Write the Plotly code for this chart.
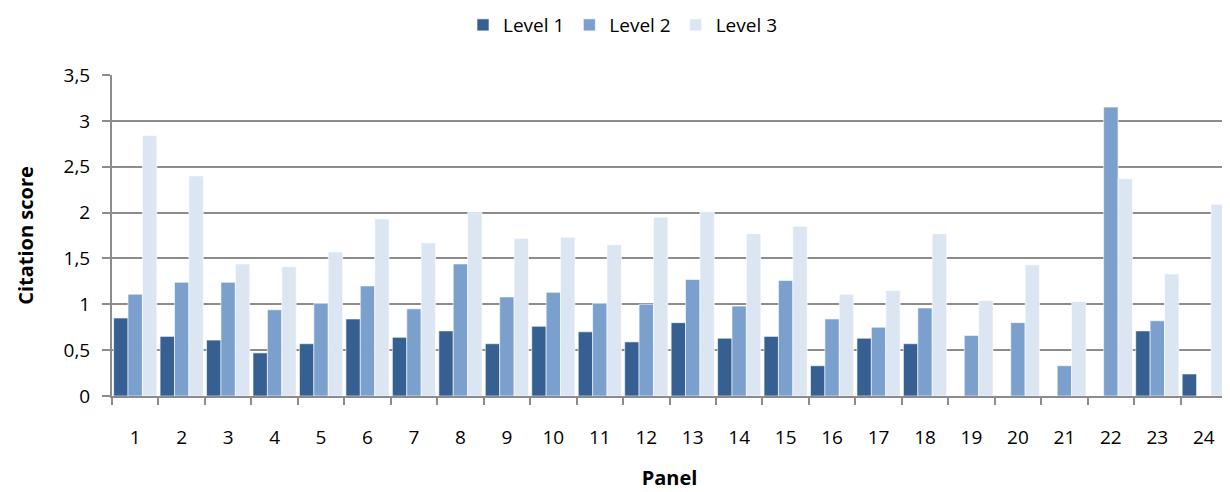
import plotly.graph_objects as go

panels = [str(i) for i in range(1, 25)]
level1 = [0.85, 0.65, 0.61, 0.47, 0.57, 0.84, 0.64, 0.71, 0.57, 0.76, 0.70, 0.59,
          0.80, 0.63, 0.65, 0.33, 0.63, 0.57, None, None, None, None, 0.71, 0.24]
level2 = [1.11, 1.24, 1.24, 0.94, 1.01, 1.20, 0.95, 1.44, 1.08, 1.13, 1.01, 1.00,
          1.27, 0.98, 1.26, 0.84, 0.75, 0.96, 0.66, 0.80, 0.33, 3.15, 0.82, None]
level3 = [2.84, 2.40, 1.44, 1.41, 1.57, 1.93, 1.67, 2.00, 1.72, 1.73, 1.65, 1.95,
          2.01, 1.77, 1.85, 1.11, 1.15, 1.77, 1.04, 1.43, 1.03, 2.37, 1.33, 2.09]

series = [("Level 1", level1, "#376092"), ("Level 2", level2, "#7BA0CD"), ("Level 3", level3, "#DCE6F2")]

font = "Open Sans"
fig = go.Figure()
for name, vals, col in series:
    fig.add_trace(go.Bar(x=panels, y=vals, name=name, marker=dict(color=col, line=dict(color="white", width=0.6))))

fig.update_layout(
    width=1230, height=492,
    barmode="group", bargap=0.07, bargroupgap=0,
    plot_bgcolor="white", paper_bgcolor="white",
    separators=", ",
    margin=dict(l=104, r=11, t=67, b=104, autoexpand=False),
    font=dict(family=font, size=19, color="black"),
    legend=dict(orientation="h", x=0.5, xref="container", xanchor="center",
                y=0.9654, yref="container", yanchor="middle",
                font=dict(size=19), itemwidth=30, traceorder="normal", tracegroupgap=0),
    xaxis=dict(title=dict(text="<b>Panel</b>", font=dict(size=20), standoff=22),
               showline=True, linecolor="#8c8c8c", linewidth=2, ticks="outside", tickson="boundaries",
               ticklen=7, tickcolor="#8c8c8c", tickwidth=2, showgrid=False, tickfont=dict(size=19),
               ticklabelstandoff=23, automargin=False),
    yaxis=dict(title=dict(text="<b>Citation score</b>", font=dict(size=20), standoff=25),
               range=[0, 3.5], dtick=0.5, showgrid=True, gridcolor="#8c8c8c", gridwidth=2,
               showline=True, linecolor="#8c8c8c", linewidth=2, ticks="outside", ticklen=8,
               tickcolor="#8c8c8c", tickwidth=2, zeroline=False, tickfont=dict(size=19),
               ticklabelstandoff=8, automargin=False),
)
fig.write_html("out.html")
